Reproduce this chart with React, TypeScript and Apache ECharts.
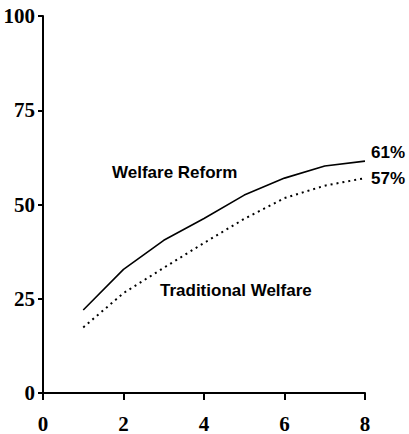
import React, { useEffect, useRef } from "react";
import * as echarts from "echarts";

const xValues = [1, 2, 3, 4, 5, 6, 7, 8];
const welfareReform = [22, 32.8, 40.5, 46.3, 52.5, 57, 60.2, 61.5];
const traditionalWelfare = [17.4, 26.5, 33.2, 39.8, 46.2, 51.7, 55, 57];
const endLabels = ["61%", "57%"];
const seriesNames = ["Welfare Reform", "Traditional Welfare"];

export default function App() {
  const ref = useRef<HTMLDivElement>(null);
  useEffect(() => {
    if (!ref.current) return;
    const chart = echarts.init(ref.current, null, { renderer: "svg" });
    const serifLabel = {
      color: "#000",
      fontFamily: "Liberation Serif",
      fontWeight: "bold" as const,
      fontSize: 21,
    };
    const annotFont = {
      fill: "#000",
      fontFamily: "Liberation Sans",
      fontWeight: "bold",
      fontSize: 17,
    };
    chart.setOption({
      animation: false,
      grid: { left: 43, right: 44, top: 16, bottom: 41, containLabel: false },
      xAxis: {
        type: "value",
        min: 0,
        max: 8,
        interval: 2,
        axisLine: { lineStyle: { color: "#000", width: 2 } },
        axisTick: { show: true, length: 7, lineStyle: { color: "#000", width: 2 } },
        axisLabel: { ...serifLabel, margin: 20 },
        splitLine: { show: false },
      },
      yAxis: {
        type: "value",
        min: 0,
        max: 100,
        interval: 25,
        axisLine: { show: true, lineStyle: { color: "#000", width: 2 } },
        axisTick: { show: true, length: 5, lineStyle: { color: "#000", width: 2 } },
        axisLabel: { ...serifLabel, margin: 8 },
        splitLine: { show: false },
      },
      series: [
        {
          name: seriesNames[0],
          type: "line",
          data: xValues.map((x, i) => [x, welfareReform[i]]),
          showSymbol: false,
          lineStyle: { color: "#000", width: 1.6, type: "solid" },
          endLabel: {
            show: true,
            formatter: () => endLabels[0],
            distance: 6,
            offset: [0, -9],
            color: "#000",
            fontFamily: "Liberation Sans",
            fontWeight: "bold",
            fontSize: 17,
          },
        },
        {
          name: seriesNames[1],
          type: "line",
          data: xValues.map((x, i) => [x, traditionalWelfare[i]]),
          showSymbol: false,
          lineStyle: { color: "#000", width: 2, type: [2, 4] },
          endLabel: {
            show: true,
            formatter: () => endLabels[1],
            distance: 6,
            offset: [0, 0],
            color: "#000",
            fontFamily: "Liberation Sans",
            fontWeight: "bold",
            fontSize: 17,
          },
        },
      ],
      graphic: [
        {
          type: "text",
          left: 112,
          top: 164,
          style: { text: seriesNames[0], ...annotFont },
        },
        {
          type: "text",
          left: 160,
          top: 282,
          style: { text: seriesNames[1], ...annotFont },
        },
      ],
    });
    return () => chart.dispose();
  }, []);
  return (
    <div
      ref={ref}
      style={{ position: "absolute", left: 0, top: 0, width: 409, height: 434 }}
    />
  );
}
